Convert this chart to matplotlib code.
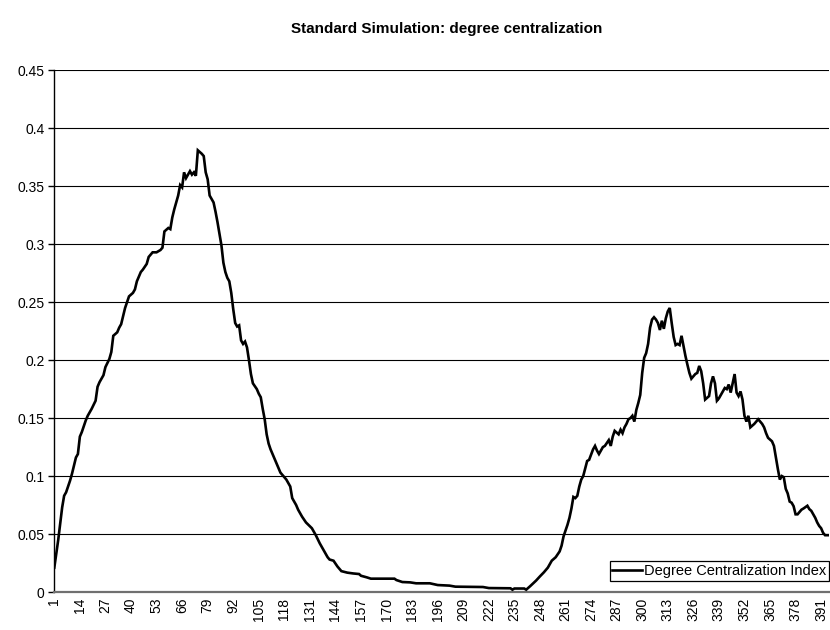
import matplotlib
matplotlib.use("Agg")
import matplotlib.pyplot as plt

plt.rcParams['font.family'] = ['Liberation Sans', 'DejaVu Sans']

title = "Standard Simulation: degree centralization"
series_name = "Degree Centralization Index"

steps = [
    1, 3, 5, 6, 7, 9, 10, 12, 13, 14, 15, 17, 18, 20, 22, 23, 24, 26, 27, 29,
    30, 31, 33, 34, 35, 37, 39, 41, 42, 43, 45, 46, 48, 49, 51, 53, 55, 56, 57, 59,
    60, 61, 62, 63, 64, 65, 66, 67, 68, 69, 70, 71, 72, 73, 74, 76, 77, 78, 79, 80,
    82, 83, 84, 86, 87, 88, 89, 90, 91, 92, 93, 94, 95, 96, 97, 98, 99, 100, 101, 102,
    104, 105, 106, 107, 108, 109, 110, 111, 112, 113, 114, 116, 117, 119, 121, 122, 124, 125, 127, 129,
    132, 134, 136, 138, 140, 141, 143, 145, 147, 150, 153, 156, 157, 160, 162, 166, 170, 174, 175, 178,
    182, 185, 192, 196, 202, 205, 219, 222, 233, 234, 235, 240, 241, 243, 246, 248, 250, 252, 254, 256,
    258, 259, 260, 261, 262, 263, 264, 265, 266, 267, 268, 269, 270, 272, 273, 275, 276, 277, 278, 280,
    281, 283, 284, 285, 286, 288, 289, 290, 291, 292, 293, 294, 295, 296, 297, 298, 299, 300, 301, 302,
    303, 304, 305, 306, 307, 308, 309, 310, 311, 312, 313, 314, 315, 316, 317, 318, 319, 320, 321, 322,
    323, 324, 325, 327, 328, 329, 330, 331, 332, 334, 335, 336, 337, 338, 339, 341, 342, 343, 344, 345,
    346, 347, 348, 349, 350, 351, 352, 353, 354, 355, 357, 358, 359, 361, 362, 363, 364, 366, 367, 368,
    369, 370, 371, 372, 373, 374, 375, 376, 377, 378, 379, 381, 382, 384, 385, 386, 387, 388, 389, 390,
    391, 392, 393, 395,
]

values = [
    0.021, 0.045, 0.073, 0.083, 0.086, 0.096, 0.102, 0.116, 0.119, 0.134, 0.138, 0.148, 0.152, 0.158, 0.165, 0.177, 0.181, 0.187, 0.194, 0.201,
    0.207, 0.221, 0.224, 0.228, 0.231, 0.245, 0.255, 0.258, 0.261, 0.268, 0.276, 0.278, 0.283, 0.289, 0.293, 0.293, 0.295, 0.297, 0.311, 0.314,
    0.313, 0.323, 0.330, 0.336, 0.342, 0.351, 0.349, 0.362, 0.357, 0.360, 0.363, 0.360, 0.362, 0.359, 0.381, 0.378, 0.376, 0.362, 0.356, 0.342,
    0.336, 0.328, 0.319, 0.299, 0.284, 0.276, 0.271, 0.268, 0.258, 0.244, 0.232, 0.229, 0.230, 0.217, 0.214, 0.216, 0.211, 0.200, 0.188, 0.180,
    0.175, 0.171, 0.168, 0.158, 0.149, 0.136, 0.128, 0.123, 0.119, 0.115, 0.111, 0.103, 0.101, 0.097, 0.091, 0.081, 0.075, 0.071, 0.065, 0.060,
    0.055, 0.049, 0.042, 0.036, 0.030, 0.028, 0.027, 0.022, 0.018, 0.0167, 0.016, 0.0155, 0.014, 0.0126, 0.0115, 0.0115, 0.0115, 0.0115, 0.0103, 0.0086,
    0.0083, 0.0075, 0.0075, 0.006, 0.0055, 0.0046, 0.0043, 0.0034, 0.0032, 0.002, 0.003, 0.003, 0.002, 0.005, 0.0098, 0.0135, 0.017, 0.021, 0.027, 0.030,
    0.035, 0.040, 0.048, 0.053, 0.058, 0.064, 0.072, 0.082, 0.081, 0.083, 0.091, 0.097, 0.100, 0.113, 0.114, 0.123, 0.126, 0.122, 0.119, 0.125,
    0.126, 0.131, 0.126, 0.134, 0.139, 0.136, 0.140, 0.137, 0.142, 0.145, 0.149, 0.150, 0.152, 0.147, 0.157, 0.163, 0.170, 0.189, 0.202, 0.206,
    0.214, 0.228, 0.235, 0.237, 0.235, 0.232, 0.226, 0.234, 0.227, 0.236, 0.242, 0.245, 0.232, 0.220, 0.213, 0.214, 0.213, 0.221, 0.212, 0.2035,
    0.196, 0.189, 0.184, 0.188, 0.189, 0.195, 0.1905, 0.180, 0.166, 0.169, 0.180, 0.186, 0.180, 0.165, 0.167, 0.173, 0.176, 0.175, 0.179, 0.172,
    0.180, 0.188, 0.172, 0.169, 0.173, 0.166, 0.152, 0.147, 0.152, 0.142, 0.145, 0.147, 0.149, 0.145, 0.142, 0.137, 0.133, 0.130, 0.126, 0.116,
    0.106, 0.097, 0.100, 0.099, 0.089, 0.085, 0.078, 0.077, 0.074, 0.067, 0.067, 0.071, 0.072, 0.0744, 0.0715, 0.070, 0.067, 0.064, 0.060, 0.057,
    0.055, 0.051, 0.049, 0.049,
]

x_ticks = [1, 14, 27, 40, 53, 66, 79, 92, 105, 118, 131, 144, 157, 170, 183, 196,
           209, 222, 235, 248, 261, 274, 287, 300, 313, 326, 339, 352, 365, 378, 391]
y_ticks = [0, 0.05, 0.1, 0.15, 0.2, 0.25, 0.3, 0.35, 0.4, 0.45]
y_tick_labels = ["0", "0.05", "0.1", "0.15", "0.2", "0.25", "0.3", "0.35", "0.4", "0.45"]

fig = plt.figure(figsize=(8.3, 6.3), dpi=100)
ax = fig.add_axes([54.3 / 830, 1 - 592 / 630, (829 - 54.3) / 830, (592 - 70.3) / 630])

ax.plot(steps, values, color="black", lw=1.9, solid_joinstyle="miter", label=series_name, zorder=3)

ax.set_xlim(1, 395)
ax.set_ylim(0, 0.45)
ax.set_yticks(y_ticks)
ax.set_yticklabels(y_tick_labels, fontsize=10)
ax.set_xticks(x_ticks)
ax.set_xticklabels([str(t) for t in x_ticks], rotation=90, fontsize=10)
ax.tick_params(axis="x", length=0, pad=4)
ax.tick_params(axis="y", length=4, width=1, pad=3, direction="out")

ax.yaxis.grid(True, color="black", lw=0.8)
ax.set_axisbelow(True)
for s in ("top", "right"):
    ax.spines[s].set_visible(False)
ax.spines["left"].set_color("black")
ax.spines["left"].set_linewidth(1.0)
ax.spines["bottom"].set_color("#707070")
ax.spines["bottom"].set_linewidth(1.6)

leg = ax.legend(loc="lower right", bbox_to_anchor=(1.0, 0.022), fontsize=10.5,
                frameon=True, fancybox=False, edgecolor="black", framealpha=1,
                handlelength=2.0, handletextpad=0.15, borderpad=0.2, borderaxespad=0)
leg.get_frame().set_linewidth(0.9)

fig.text(447 / 830, 1 - 29 / 630, title, ha="center", va="center",
         fontsize=11, fontweight="bold")

fig.savefig("out.png", dpi=100)
